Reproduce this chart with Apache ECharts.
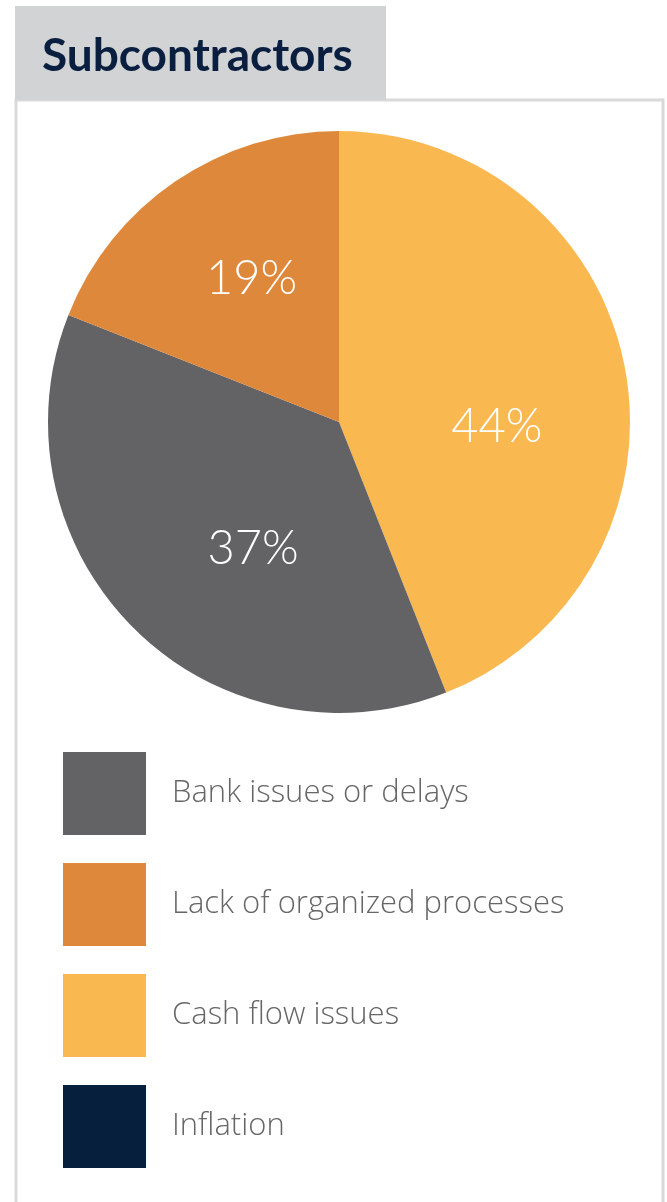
<!DOCTYPE html>
<html>
<head>
<meta charset="utf-8">
<script src="https://cdn.jsdelivr.net/npm/echarts@6/dist/echarts.min.js"></script>
<style>
html,body{margin:0;padding:0;background:#fff;}
#c{width:667px;height:1202px;}
</style>
</head>
<body>
<div id="c"></div>
<script>
var titleText = 'Subcontractors';
var sliceNames = ['Cash flow issues', 'Bank issues or delays', 'Lack of organized processes', 'Inflation'];
var sliceValues = [44, 37, 19, 0];
var sliceColors = ['#fab851', '#636365', '#de883c', '#061f3d'];
var legendOrder = ['Bank issues or delays', 'Lack of organized processes', 'Cash flow issues', 'Inflation'];
// label nudges (styling only)
var labelOffsets = [[12, 33], [19, 22], [-4, -20], [0, 0]];

var chart = echarts.init(document.getElementById('c'), null, {renderer: 'canvas'});
var data = sliceNames.map(function (n, i) {
  return {
    name: n,
    value: sliceValues[i],
    itemStyle: {color: sliceColors[i]},
    label: {show: sliceValues[i] > 0, offset: labelOffsets[i]}
  };
});
chart.setOption({
  animation: false,
  graphic: [
    {type: 'polyline', shape: {points: [[16, 1202], [16, 100], [663, 100], [663, 1202]]},
     style: {stroke: '#d9d9d9', lineWidth: 3, fill: null}, z: 0},
    {type: 'rect', shape: {x: 15, y: 6, width: 371, height: 94}, style: {fill: '#d1d3d5'}, z: 1},
    {type: 'text', left: 42, top: 33, z: 2,
     style: {text: titleText, fill: '#0a1f3f', font: 'bold 46px Lato, "Noto Sans", sans-serif'}}
  ],
  legend: {
    orient: 'vertical',
    left: 63,
    top: 752,
    padding: 0,
    itemWidth: 83,
    itemHeight: 83,
    itemGap: 28,
    icon: 'rect',
    data: legendOrder,
    selectedMode: false,
    textStyle: {fontSize: 31, color: '#666666', fontFamily: '"Open Sans", "Noto Sans", sans-serif', fontWeight: 300, padding: [4, 0, 0, 21]}
  },
  series: [{
    type: 'pie',
    center: [339, 422],
    radius: [0, 291],
    startAngle: 90,
    clockwise: true,
    avoidLabelOverlap: false,
    label: {
      position: 'inside',
      formatter: '{c}%',
      color: '#ffffff',
      fontSize: 47,
      fontWeight: 300,
      fontFamily: 'Lato, "Noto Sans", sans-serif'
    },
    labelLine: {show: false},
    emphasis: {disabled: true},
    itemStyle: {borderWidth: 0},
    data: data
  }]
});
</script>
</body>
</html>
